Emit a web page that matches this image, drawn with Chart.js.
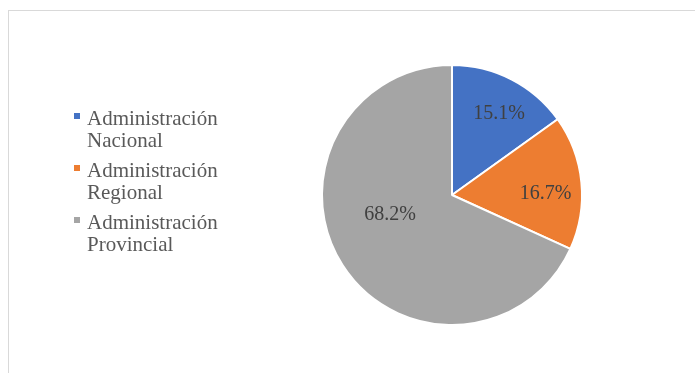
<!DOCTYPE html>
<html>
<head>
<meta charset="utf-8">
<script src="https://cdn.jsdelivr.net/npm/chart.js@4/dist/chart.umd.min.js"></script>
<style>
  html, body { margin: 0; padding: 0; background: #fff; }
  #wrap { position: relative; width: 695px; height: 373px; overflow: hidden; }
  #frame { position: absolute; left: 8px; top: 10px; width: 720px; height: 420px; border: 1px solid #d9d9d9; box-sizing: border-box; }
  #chart { position: absolute; left: 0; top: 0; }
</style>
</head>
<body>
<div id="wrap">
  <div id="frame"></div>
  <canvas id="chart" width="695" height="373"></canvas>
</div>
<script>
// share of each level of administration (%)
var categories = [
    ['Administración', 'Nacional'],
    ['Administración', 'Regional'],
    ['Administración', 'Provincial']
];
var shares = [15.1, 16.7, 68.2];
var colors = ['#4472C4', '#ED7D31', '#A5A5A5'];

// where each percent label sits inside its slice (fraction of radius, angle nudge in degrees)
var labelPlacement = [
    { f: 0.72, da: 3 },
    { f: 0.72, da: 5 },
    { f: 0.50, da: 15 }
];

var serif = '"Liberation Serif", "Times New Roman", serif';

// percent labels drawn inside the slices
var sliceLabels = {
    id: 'sliceLabels',
    afterDatasetsDraw: function(chart){
        var ctx = chart.ctx;
        var meta = chart.getDatasetMeta(0);
        ctx.save();
        ctx.font = '20px ' + serif;
        ctx.fillStyle = '#404040';
        ctx.textAlign = 'center';
        ctx.textBaseline = 'middle';
        meta.data.forEach(function(arc, i){
            var p = arc.getProps(['x', 'y', 'startAngle', 'endAngle', 'outerRadius'], true);
            var place = labelPlacement[i];
            var mid = (p.startAngle + p.endAngle) / 2 + place.da * Math.PI / 180;
            var r = p.outerRadius * place.f;
            var v = chart.data.datasets[0].data[i];
            ctx.fillText(v.toFixed(1) + '%', p.x + Math.cos(mid) * r, p.y + Math.sin(mid) * r);
        });
        ctx.restore();
    }
};

// legend on the left, two lines per entry
var sideLegend = {
    id: 'sideLegend',
    afterDraw: function(chart){
        var ctx = chart.ctx;
        var ds = chart.data.datasets[0];
        ctx.save();
        ctx.font = '21px ' + serif;
        ctx.textBaseline = 'alphabetic';
        ctx.textAlign = 'left';
        chart.data.labels.forEach(function(lines, i){
            var base = 125 + i * 52;
            ctx.fillStyle = ds.backgroundColor[i];
            ctx.fillRect(74, base - 12, 6, 6);
            ctx.fillStyle = '#595959';
            lines.forEach(function(line, j){
                ctx.fillText(line, 87, base + j * 22);
            });
        });
        ctx.restore();
    }
};

new Chart(document.getElementById('chart'), {
    type: 'pie',
    data: {
        labels: categories,
        datasets: [{
            data: shares,
            backgroundColor: colors,
            borderColor: '#ffffff',
            borderWidth: 2
        }]
    },
    options: {
        responsive: false,
        animation: false,
        layout: { padding: { left: 321, right: 112, top: 64, bottom: 47 } },
        plugins: {
            legend: { display: false },
            tooltip: { enabled: true }
        }
    },
    plugins: [sliceLabels, sideLegend]
});
</script>
</body>
</html>
